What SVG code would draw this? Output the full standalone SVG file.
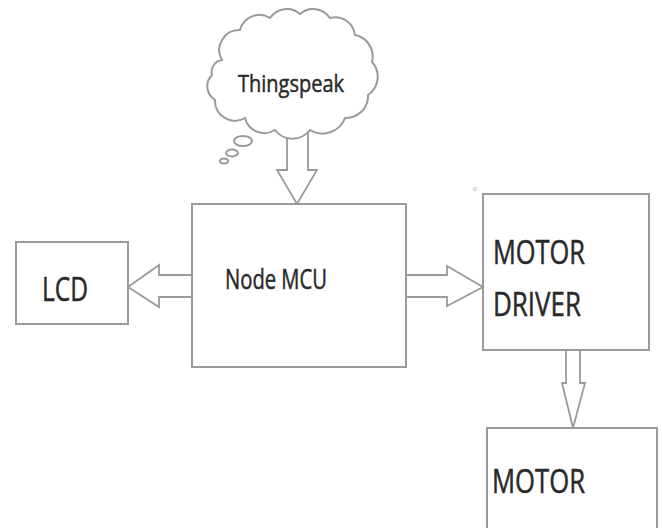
<svg xmlns="http://www.w3.org/2000/svg" width="662" height="528" viewBox="0 0 662 528">
<style>
.box{fill:#fff;stroke:#9a9a9a;stroke-width:2}
.arr{fill:#fff;stroke:#9a9a9a;stroke-width:1.8;stroke-linejoin:miter}
.t{font-family:"Open Sans","Noto Sans",sans-serif;fill:#2a2a2a;stroke:#2a2a2a;stroke-width:0.5}
</style>
<rect width="662" height="528" fill="#fff"/>
<g id="connectors">
<polygon class="arr" points="287,128 308,128 308,170 317,170 297,204 277,170 287,170"/>
<polygon class="arr" points="128,287 159,265 159,275 192,275 192,297 159,297 159,307"/>
<polygon class="arr" points="406,275 447,275 447,266 483,287 447,306 447,297 406,297"/>
<polygon class="arr" points="566,350 580,350 580,383 585,383 573,428 562,383 566,383"/>
</g>
<g id="thingspeak">
<path class="box" d="M222,60 A20,20 0 0 1 240,30 A20,20 0 0 1 270,18 A20,20 0 0 1 300,14 A20,20 0 0 1 330,18 A20,20 0 0 1 355,35 A22,22 0 0 1 372,62 A22,22 0 0 1 368,95 A22,22 0 0 1 345,118 A24,24 0 0 1 310,130 A22,22 0 0 1 275,130 A20,20 0 0 1 245,118 A20,20 0 0 1 215,100 A16,16 0 0 1 212,75 A12,12 0 0 1 222,60 Z"/>
<ellipse class="box" cx="243" cy="141" rx="9" ry="5" stroke-width="1.5"/>
<ellipse class="box" cx="232" cy="153" rx="6" ry="3.5" stroke-width="1.5"/>
<ellipse class="box" cx="224" cy="161" rx="4" ry="2.5" stroke-width="1.5"/>
<text class="t" x="238" y="92" font-size="24" textLength="106" lengthAdjust="spacingAndGlyphs">Thingspeak</text>
</g>
<g id="lcd">
<rect class="box" x="16" y="242" width="112" height="82"/>
<text class="t" x="42" y="301" font-size="32" textLength="46" lengthAdjust="spacingAndGlyphs">LCD</text>
</g>
<g id="nodemcu">
<rect class="box" x="192" y="204" width="214" height="163"/>
<text class="t" x="225" y="289" font-size="28" textLength="102" lengthAdjust="spacingAndGlyphs">Node MCU</text>
</g>
<g id="motordriver">
<rect class="box" x="483" y="194" width="166" height="156"/>
<text class="t" x="493" y="264" font-size="32" textLength="92" lengthAdjust="spacingAndGlyphs">MOTOR</text>
<text class="t" x="493" y="316" font-size="32" textLength="88" lengthAdjust="spacingAndGlyphs">DRIVER</text>
<text x="473" y="191" font-size="7" font-family="Liberation Sans,sans-serif" fill="#aaa">o</text>
</g>
<g id="motor">
<rect class="box" x="487" y="428" width="170" height="110"/>
<text class="t" x="492" y="493" font-size="32" textLength="93" lengthAdjust="spacingAndGlyphs">MOTOR</text>
</g>
</svg>
